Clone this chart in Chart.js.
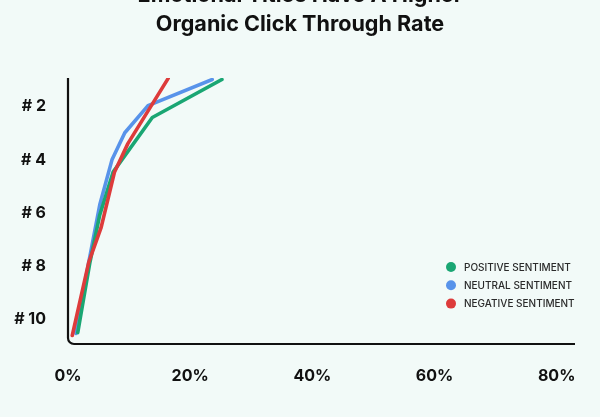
<!DOCTYPE html>
<html>
<head>
<meta charset="utf-8">
<script src="https://cdn.jsdelivr.net/npm/chart.js@4.4.1/dist/chart.umd.min.js"></script>
<style>
  html, body { margin: 0; padding: 0; background: #f2faf8; }
  #frame { position: relative; width: 600px; height: 417px; overflow: hidden; background: #f2faf8; }
  #wrap { position: absolute; left: 0; top: -30px; width: 600px; height: 447px; }
</style>
</head>
<body>
<div id="frame"><div id="wrap"><canvas id="c"></canvas></div></div>
<script>
// ---- data ----
const titleLines = ['Emotional Titles Have A Higher', 'Organic Click Through Rate'];
const seriesNames = ['POSITIVE SENTIMENT', 'NEUTRAL SENTIMENT', 'NEGATIVE SENTIMENT'];
const seriesColors = ['#1aa673', '#5893ea', '#dd3b3b'];

// CTR (%) and ranking position for each vertex
const positiveCTR  = [25.2, 13.8, 7.4, 5.2, 3.6, 1.6];
const positiveRank = [1.06, 2.49, 4.53, 6.15, 7.92, 10.57];
const neutralCTR   = [23.6, 13.1, 9.3, 7.2, 5.2, 3.3, 1.3];
const neutralRank  = [1.06, 2.04, 3.06, 4.08, 5.77, 8.04, 10.6];
const negativeCTR  = [16.4, 9.8, 7.6, 5.4, 3.4, 0.7];
const negativeRank = [1.02, 3.47, 4.55, 6.64, 7.92, 10.68];

const xTicks = [0, 20, 40, 60, 80];
const yTicks = [2, 4, 6, 8, 10];

const FONT = 'Inter, "Noto Sans", sans-serif';

function pts(xs, ys) { return xs.map((x, i) => ({ x: x, y: ys[i] })); }

const axesPlugin = {
  id: 'roundedAxes',
  beforeDatasetsDraw(chart) {
    const a = chart.chartArea, ctx = chart.ctx, r = 6;
    ctx.save();
    ctx.strokeStyle = '#111';
    ctx.lineWidth = 2.2;
    ctx.beginPath();
    ctx.moveTo(a.left, a.top);
    ctx.lineTo(a.left, a.bottom - r);
    ctx.arcTo(a.left, a.bottom, a.left + r, a.bottom, r);
    ctx.lineTo(a.right, a.bottom);
    ctx.stroke();
    ctx.restore();
  }
};

const legendPlugin = {
  id: 'insideLegend',
  afterDraw(chart) {
    const a = chart.chartArea, ctx = chart.ctx;
    ctx.save();
    ctx.font = '500 10px ' + FONT;
    ctx.textBaseline = 'middle';
    ctx.textAlign = 'left';
    chart.data.datasets.forEach((ds, i) => {
      const cy = a.bottom - 77 + i * 18.3;
      const cx = a.right - 124;
      ctx.fillStyle = ds.borderColor;
      ctx.beginPath();
      ctx.arc(cx, cy, 5, 0, Math.PI * 2);
      ctx.fill();
      ctx.fillStyle = '#2a2a2a';
      ctx.fillText(ds.label, cx + 13, cy + 0.5);
    });
    ctx.restore();
  }
};

new Chart(document.getElementById('c'), {
  type: 'scatter',
  data: {
    datasets: [
      { label: seriesNames[0], data: pts(positiveCTR, positiveRank), borderColor: seriesColors[0], backgroundColor: seriesColors[0], order: 2 },
      { label: seriesNames[1], data: pts(neutralCTR, neutralRank), borderColor: seriesColors[1], backgroundColor: seriesColors[1], order: 3 },
      { label: seriesNames[2], data: pts(negativeCTR, negativeRank), borderColor: seriesColors[2], backgroundColor: seriesColors[2], order: 1 }
    ]
  },
  options: {
    responsive: true,
    maintainAspectRatio: false,
    animation: false,
    layout: { padding: 0 },
    elements: {
      line: { borderWidth: 3.6, tension: 0, borderCapStyle: 'round', borderJoinStyle: 'round' },
      point: { radius: 0, hoverRadius: 0 }
    },
    datasets: { scatter: { showLine: true } },
    plugins: {
      legend: { display: false },
      tooltip: { enabled: false },
      title: {
        display: true,
        text: titleLines,
        color: '#111',
        font: { family: FONT, size: 21.6, weight: '700', lineHeight: 1.34 },
        padding: { top: 11.5, bottom: 38.5 }
      }
    },
    scales: {
      x: {
        type: 'linear',
        min: 0, max: 83,
        grid: { display: false, drawTicks: false },
        border: { display: false },
        afterBuildTicks(s) { s.ticks = xTicks.map(v => ({ value: v })); },
        afterFit(s) { s.height = 73; },
        ticks: {
          padding: 23,
          color: '#111',
          font: { family: FONT, size: 16, weight: '700' },
          callback: v => v + '%'
        }
      },
      y: {
        type: 'linear',
        position: 'left',
        min: 1, max: 11,
        reverse: true,
        grid: { display: false, drawTicks: false },
        border: { display: false },
        afterBuildTicks(s) { s.ticks = yTicks.map(v => ({ value: v })); },
        afterFit(s) { s.width = 68; },
        ticks: {
          padding: 22,
          labelOffset: 2,
          color: '#111',
          font: { family: FONT, size: 16, weight: '700' },
          callback: v => '# ' + v
        }
      },
      yRight: {
        type: 'linear',
        position: 'right',
        min: 1, max: 11,
        grid: { display: false, drawTicks: false },
        border: { display: false },
        ticks: { display: false },
        afterFit(s) { s.width = 25; }
      }
    }
  },
  plugins: [axesPlugin, legendPlugin]
});
</script>
</body>
</html>
